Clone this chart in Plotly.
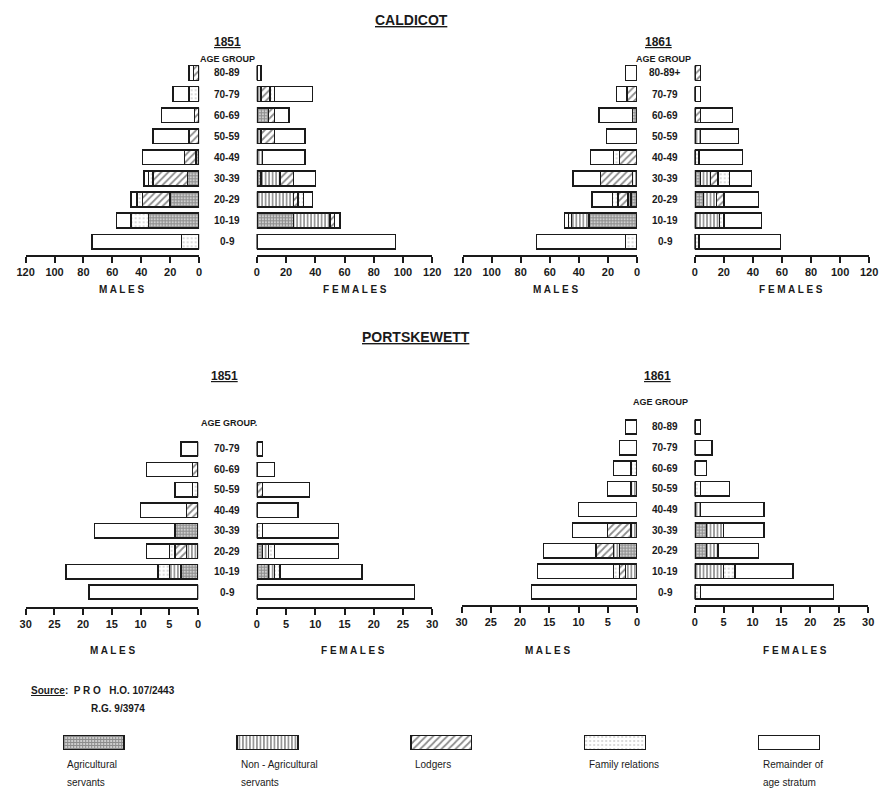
import plotly.graph_objects as go

# ------------------------------------------------------------------ data
categories = ["Agricultural servants", "Non-Agricultural servants", "Lodgers",
              "Family relations", "Remainder of age stratum"]
legend_labels = ["Agricultural<br>servants", "Non - Agricultural<br>servants", "Lodgers",
                 "Family relations", "Remainder of<br>age stratum"]

ages_cal_1851 = ["0-9", "10-19", "20-29", "30-39", "40-49", "50-59", "60-69", "70-79", "80-89"]
ages_cal_1861 = ["0-9", "10-19", "20-29", "30-39", "40-49", "50-59", "60-69", "70-79", "80-89+"]
ages_por_1851 = ["0-9", "10-19", "20-29", "30-39", "40-49", "50-59", "60-69", "70-79"]
ages_por_1861 = ["0-9", "10-19", "20-29", "30-39", "40-49", "50-59", "60-69", "70-79", "80-89"]

# Caldicot 1851 – males
cal51_m_agric     = [0, 35, 20, 8, 2, 0, 0, 0, 0]
cal51_m_nonagric  = [0, 0, 0, 0, 0, 0, 0, 0, 0]
cal51_m_lodgers   = [0, 0, 19, 24, 8, 7, 3, 0, 4]
cal51_m_family    = [12, 12, 4, 3, 0, 0, 0, 7, 0]
cal51_m_remainder = [62, 10, 4, 3, 29, 25, 23, 11, 3]
# Caldicot 1851 – females
cal51_f_agric     = [0, 25, 0, 3, 0, 0, 8, 0, 0]
cal51_f_nonagric  = [0, 25, 25, 13, 4, 3, 0, 3, 0]
cal51_f_lodgers   = [0, 3, 3, 9, 0, 9, 4, 6, 0]
cal51_f_family    = [0, 0, 4, 0, 0, 0, 0, 3, 0]
cal51_f_remainder = [95, 4, 6, 15, 29, 21, 10, 26, 3]
# Caldicot 1861 – males
cal61_m_agric     = [0, 33, 4, 0, 0, 0, 3, 0, 0]
cal61_m_nonagric  = [0, 12, 2, 3, 0, 0, 0, 0, 0]
cal61_m_lodgers   = [0, 0, 7, 22, 12, 0, 0, 7, 0]
cal61_m_family    = [8, 2, 4, 0, 4, 0, 0, 0, 0]
cal61_m_remainder = [61, 3, 14, 19, 16, 21, 23, 7, 8]
# Caldicot 1861 – females
cal61_f_agric     = [0, 0, 6, 4, 0, 0, 0, 0, 0]
cal61_f_nonagric  = [0, 17, 9, 7, 0, 4, 0, 0, 0]
cal61_f_lodgers   = [0, 0, 5, 5, 0, 0, 4, 0, 4]
cal61_f_family    = [3, 3, 0, 8, 3, 0, 0, 0, 0]
cal61_f_remainder = [56, 26, 24, 15, 30, 26, 22, 4, 0]
# Portskewett 1851 – males
por51_m_agric     = [0, 3, 0, 4, 0, 0, 0, 0]
por51_m_nonagric  = [0, 2, 2, 0, 0, 0, 0, 0]
por51_m_lodgers   = [0, 0, 2, 0, 2, 0, 1, 0]
por51_m_family    = [0, 2, 1, 0, 0, 1, 0, 0]
por51_m_remainder = [19, 16, 4, 14, 8, 3, 8, 3]
# Portskewett 1851 – females
por51_f_agric     = [0, 2, 1, 0, 0, 0, 0, 0]
por51_f_nonagric  = [0, 1, 1, 0, 0, 0, 0, 0]
por51_f_lodgers   = [0, 0, 0, 0, 0, 1, 0, 0]
por51_f_family    = [0, 1, 1, 1, 0, 0, 0, 0]
por51_f_remainder = [27, 14, 11, 13, 7, 8, 3, 1]
# Portskewett 1861 – males
por61_m_agric     = [0, 0, 3, 0, 0, 0, 0, 0, 0]
por61_m_nonagric  = [0, 2, 1, 1, 0, 1, 0, 0, 0]
por61_m_lodgers   = [0, 1, 3, 4, 0, 0, 0, 0, 0]
por61_m_family    = [0, 1, 0, 0, 0, 0, 1, 0, 0]
por61_m_remainder = [18, 13, 9, 6, 10, 4, 3, 3, 2]
# Portskewett 1861 – females
por61_f_agric     = [0, 0, 2, 2, 0, 0, 0, 0, 0]
por61_f_nonagric  = [0, 5, 2, 3, 1, 0, 0, 0, 0]
por61_f_lodgers   = [0, 0, 0, 0, 0, 0, 0, 0, 0]
por61_f_family    = [1, 2, 0, 0, 0, 1, 0, 0, 0]
por61_f_remainder = [23, 10, 7, 7, 11, 5, 2, 3, 1]

cal_ticks = [0, 20, 40, 60, 80, 100, 120]
por_ticks = [0, 5, 10, 15, 20, 25, 30]

# ------------------------------------------------------------------ styling / layout
W, H = 885, 796
FONT = "Liberation Sans, Arial, sans-serif"
INK = "#1a1a1a"


def fx(p):
    return p / W


def fy(p):
    return 1 - p / H


cat_markers = [
    dict(color="white", line=dict(color=INK, width=1.5),
         pattern=dict(shape="+", size=3, solidity=0.75, fgcolor=INK, bgcolor="white")),
    dict(color="white", line=dict(color=INK, width=1.5),
         pattern=dict(shape="|", size=3.5, solidity=0.45, fgcolor=INK, bgcolor="white")),
    dict(color="white", line=dict(color=INK, width=1.5),
         pattern=dict(shape="/", size=5, solidity=0.35, fgcolor=INK, bgcolor="white")),
    dict(color="white", line=dict(color=INK, width=1.5),
         pattern=dict(shape=".", size=4, solidity=0.2, fgcolor="#a0a0a0", bgcolor="white")),
    dict(color="white", line=dict(color=INK, width=1.5)),
]

panels = [
    dict(ages=ages_cal_1851,
         male=[cal51_m_agric, cal51_m_nonagric, cal51_m_lodgers, cal51_m_family, cal51_m_remainder],
         female=[cal51_f_agric, cal51_f_nonagric, cal51_f_lodgers, cal51_f_family, cal51_f_remainder],
         xm=(17, 194), xf=(253, 432), yd=(60.3, 255), yr=(-0.63, 8.6), xmax=120, ticks=cal_ticks,
         cx=223, year="1851", year_xy=(223, 42), ag="AGE GROUP", ag_xy=(223, 59),
         males_xy=(115, 289), females_xy=(353, 289)),
    dict(ages=ages_cal_1861,
         male=[cal61_m_agric, cal61_m_nonagric, cal61_m_lodgers, cal61_m_family, cal61_m_remainder],
         female=[cal61_f_agric, cal61_f_nonagric, cal61_f_lodgers, cal61_f_family, cal61_f_remainder],
         xm=(463, 641), xf=(700, 878), yd=(60.3, 255), yr=(-0.63, 8.6), xmax=120, ticks=cal_ticks,
         cx=670, year="1861", year_xy=(663, 42), ag="AGE GROUP", ag_xy=(668, 59),
         males_xy=(558, 289), females_xy=(798, 289)),
    dict(ages=ages_por_1851,
         male=[por51_m_agric, por51_m_nonagric, por51_m_lodgers, por51_m_family, por51_m_remainder],
         female=[por51_f_agric, por51_f_nonagric, por51_f_lodgers, por51_f_family, por51_f_remainder],
         xm=(17, 193), xf=(253, 432), yd=(436.7, 607), yr=(-0.73, 7.6), xmax=30, ticks=por_ticks,
         cx=223, year="1851", year_xy=(220, 376), ag="AGE GROUP.", ag_xy=(225, 423),
         males_xy=(106, 650), females_xy=(351, 650)),
    dict(ages=ages_por_1861,
         male=[por61_m_agric, por61_m_nonagric, por61_m_lodgers, por61_m_family, por61_m_remainder],
         female=[por61_f_agric, por61_f_nonagric, por61_f_lodgers, por61_f_family, por61_f_remainder],
         xm=(462, 641), xf=(700, 877), yd=(414.6, 605), yr=(-0.63, 8.6), xmax=30, ticks=por_ticks,
         cx=670, year="1861", year_xy=(662, 376), ag="AGE GROUP", ag_xy=(665, 402),
         males_xy=(550, 650), females_xy=(802, 650)),
]

fig = go.Figure()
layout = dict(
    width=W, height=H, margin=dict(l=0, r=0, t=0, b=0),
    paper_bgcolor="white", plot_bgcolor="rgba(0,0,0,0)",
    showlegend=False, barmode="stack",
    font=dict(family=FONT, size=11, color=INK),
)
annotations = []


def txt(x, y, text, size=11, xanchor="center", yanchor="middle", bold=True, **kw):
    t = f"<b>{text}</b>" if bold else text
    d = dict(x=fx(x), y=fy(y), xref="paper", yref="paper", text=t, showarrow=False,
             xanchor=xanchor, yanchor=yanchor, font=dict(family=FONT, size=size, color=INK))
    d.update(kw)
    annotations.append(d)


axis_n = 0
for p in panels:
    ypos = list(range(len(p["ages"])))
    for side in ("male", "female"):
        axis_n += 1
        sfx = "" if axis_n == 1 else str(axis_n)
        for ci, vals in enumerate(p[side]):
            fig.add_trace(go.Bar(
                x=vals, y=ypos, orientation="h", width=0.7,
                marker=cat_markers[ci], name=categories[ci],
                xaxis="x" + sfx, yaxis="y" + sfx,
                hovertemplate=categories[ci] + ": %{x}<extra></extra>",
            ))
        xd = p["xm"] if side == "male" else p["xf"]
        rng = [p["xmax"], 0] if side == "male" else [0, p["xmax"]]
        layout["xaxis" + sfx] = dict(
            domain=[fx(xd[0]), fx(xd[1])], range=rng, anchor="y" + sfx,
            showline=True, linecolor=INK, linewidth=1.5, ticks="outside", ticklen=6,
            tickwidth=1.5, tickcolor=INK, tickvals=p["ticks"], showgrid=False, zeroline=False,
            tickfont=dict(family=FONT, size=11, color=INK, weight="bold"), fixedrange=True,
        )
        layout["yaxis" + sfx] = dict(
            domain=[fy(p["yd"][1]), fy(p["yd"][0])], range=list(p["yr"]), anchor="x" + sfx,
            visible=False, showgrid=False, zeroline=False, fixedrange=True,
        )
    # age-group labels in the middle
    for i, a in enumerate(p["ages"]):
        annotations.append(dict(x=fx(p["cx"]), y=i, xref="paper", yref="y" + sfx,
                                text=f"<b>{a}</b>", showarrow=False, xanchor="center",
                                font=dict(family=FONT, size=10, color=INK)))
    txt(*p["year_xy"], f"<u>{p['year']}</u>", size=12)
    txt(*p["ag_xy"], p["ag"], size=9)
    txt(*p["males_xy"], "M A L E S", size=10)
    txt(*p["females_xy"], "F E M A L E S", size=10)

# town titles
txt(411, 20, "<u>CALDICOT</u>", size=14)
txt(415, 337, "<u>PORTSKEWETT</u>", size=14)

# source
txt(20, 690, "<u>Source</u>:  P R O   H.O. 107/2443", size=10, xanchor="left")
txt(82, 708, "R.G. 9/3974", size=10, xanchor="left")

# legend as its own small strip of swatches
axis_n += 1
lsfx = str(axis_n)
leg_x = list(range(len(categories)))
for ci, cat in enumerate(categories):
    fig.add_trace(go.Bar(
        x=[leg_x[ci]], y=[1], width=0.35, marker=cat_markers[ci], name=cat,
        xaxis="x" + lsfx, yaxis="y" + lsfx, hoverinfo="name",
    ))
layout["xaxis" + lsfx] = dict(domain=[fx(15.5), fx(867)], range=[-0.4, 4.4],
                              anchor="y" + lsfx, visible=False, fixedrange=True)
layout["yaxis" + lsfx] = dict(domain=[fy(750), fy(735)], range=[0, 1],
                              anchor="x" + lsfx, visible=False, fixedrange=True)
swatch_left = [55, 233, 410, 588, 766]
for ci, lab in enumerate(legend_labels):
    for li, line in enumerate(lab.split("<br>")):
        txt(swatch_left[ci] + 2, 764 + 18 * li, line, size=10, xanchor="left", bold=False)

layout["annotations"] = annotations
fig.update_layout(**layout)
fig.write_html(
    "out.html",
    config={"displayModeBar": False},
    post_script="document.body.style.margin='0';document.body.style.overflow='hidden';",
)
